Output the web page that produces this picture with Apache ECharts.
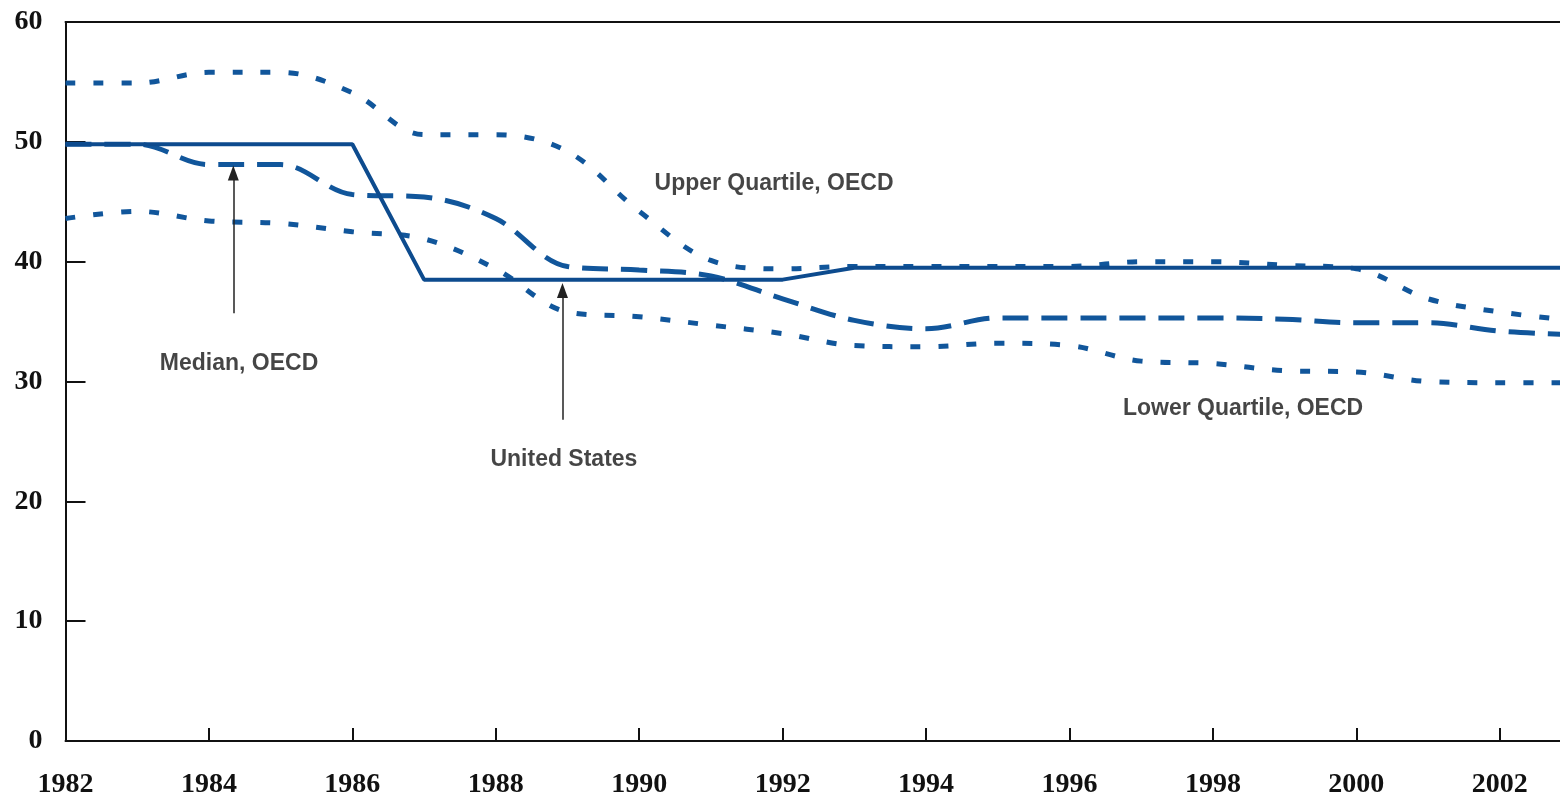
<!DOCTYPE html>
<html>
<head>
<meta charset="utf-8">
<script src="https://cdn.jsdelivr.net/npm/echarts@6/dist/echarts.min.js"></script>
<style>
  html, body { margin: 0; padding: 0; background: #fff; }
  #chart { width: 1560px; height: 799px; }
</style>
</head>
<body>
<div id="chart"></div>
<script>
const years = [1982, 1983, 1984, 1985, 1986, 1987, 1988, 1989, 1990, 1991, 1992,
  1993, 1994, 1995, 1996, 1997, 1998, 1999, 2000, 2001, 2002, 2003]

const upperQuartile = [54.9, 54.9, 55.8, 55.8, 54.1, 50.6, 50.6, 49.2, 44.2, 40.1, 39.4,
  39.6, 39.6, 39.6, 39.6, 40.0, 40.0, 39.7, 39.4, 36.9, 35.8, 35.1]
const median = [49.8, 49.8, 48.1, 48.1, 45.6, 45.4, 43.6, 39.6, 39.3, 38.8, 36.9,
  35.1, 34.4, 35.3, 35.3, 35.3, 35.3, 35.2, 34.9, 34.9, 34.2, 33.9]
const lowerQuartile = [43.6, 44.2, 43.4, 43.2, 42.5, 41.9, 39.4, 35.8, 35.4, 34.7, 34.0,
  33.0, 32.9, 33.2, 33.0, 31.7, 31.5, 30.9, 30.8, 30.0, 29.9, 29.9]
const unitedStates = [49.8, 49.8, 49.8, 49.8, 49.8, 38.5, 38.5, 38.5, 38.5, 38.5, 38.5,
  39.5, 39.5, 39.5, 39.5, 39.5, 39.5, 39.5, 39.5, 39.5, 39.5, 39.5]

// annotation text and arrows, in data coordinates
const labelNames = ['Upper Quartile, OECD', 'Median, OECD', 'United States', 'Lower Quartile, OECD']
const labelX = [1991.88, 1984.42, 1988.95, 1998.42]
const labelY = [46.5, 31.5, 23.5, 27.7]
const arrowX = [1984.34, 1988.93]
const arrowFrom = [35.7, 26.8]
const arrowTo = [47.4, 37.6]

const pairs = (vals) => years.map((y, i) => [y, vals[i]])

const blue = '#0d4b8e'
const dotBlue = '#11569b'

const chart = echarts.init(document.getElementById('chart'))

const option = {
  animation: false,
  grid: { left: 65.5, right: 0, top: 22, bottom: 51 },
  xAxis: [
    {
      type: 'value',
      min: 1982,
      max: 2002.84,
      interval: 2,
      axisLine: { lineStyle: { color: '#111', width: 2 } },
      axisTick: { inside: true, length: 13, lineStyle: { color: '#111', width: 2 } },
      axisLabel: {
        showMaxLabel: false,
        formatter: (v) => String(v),
        color: '#111',
        fontFamily: 'Liberation Serif',
        fontWeight: 'bold',
        fontSize: 28,
        margin: 30
      },
      splitLine: { show: false }
    },
    {
      type: 'value',
      position: 'top',
      min: 1982,
      max: 2002.84,
      axisLine: { show: true, onZero: false, lineStyle: { color: '#111', width: 2 } },
      axisTick: { show: false },
      axisLabel: { show: false },
      splitLine: { show: false }
    }
  ],
  yAxis: {
    type: 'value',
    min: 0,
    max: 60,
    interval: 10,
    axisLine: { show: true, lineStyle: { color: '#111', width: 2 } },
    axisTick: { show: true, inside: true, length: 20, lineStyle: { color: '#111', width: 2 } },
    axisLabel: {
      color: '#111',
      fontFamily: 'Liberation Serif',
      fontWeight: 'bold',
      fontSize: 28,
      margin: 23
    },
    splitLine: { show: false }
  },
  series: [
    {
      name: 'Upper Quartile, OECD',
      type: 'line',
      data: pairs(upperQuartile),
      smooth: 0.35,
      showSymbol: false,
      lineStyle: { color: dotBlue, width: 5, type: [10, 18], cap: 'butt' }
    },
    {
      name: 'Lower Quartile, OECD',
      type: 'line',
      data: pairs(lowerQuartile),
      smooth: 0.35,
      showSymbol: false,
      lineStyle: { color: dotBlue, width: 5, type: [10, 18], cap: 'butt' }
    },
    {
      name: 'Median, OECD',
      type: 'line',
      data: pairs(median),
      smooth: 0.35,
      showSymbol: false,
      lineStyle: { color: dotBlue, width: 5, type: [26, 13], cap: 'butt' }
    },
    {
      name: 'United States',
      type: 'line',
      data: pairs(unitedStates),
      showSymbol: false,
      lineStyle: { color: blue, width: 4 },
      markLine: {
        silent: true,
        symbol: ['none', 'triangle'],
        symbolSize: [11, 15],
        label: { show: false },
        lineStyle: { color: '#222', width: 1.5, type: 'solid' },
        data: arrowX.map((x, i) => [
          { coord: [x, arrowFrom[i]] },
          { coord: [x, arrowTo[i]] }
        ])
      }
    },
    {
      name: 'labels',
      type: 'scatter',
      symbolSize: 1,
      itemStyle: { color: 'rgba(0,0,0,0)' },
      silent: true,
      data: labelNames.map((n, i) => ({ name: n, value: [labelX[i], labelY[i]] })),
      label: {
        show: true,
        position: 'inside',
        formatter: (p) => p.name,
        color: '#161616',
        fontFamily: 'Liberation Sans',
        fontWeight: 'bold',
        fontSize: 23
      }
    }
  ]
}

chart.setOption(option)
</script>
</body>
</html>
